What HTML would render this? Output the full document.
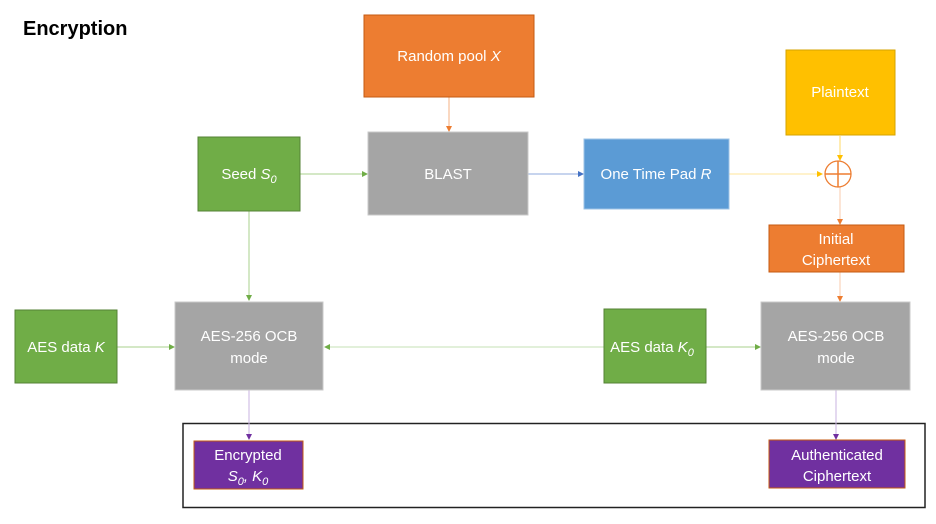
<!DOCTYPE html>
<html><head><meta charset="utf-8"><style>
body{margin:0;background:#fff;width:936px;height:524px;overflow:hidden}
svg{display:block}
text{font-family:"Liberation Sans",sans-serif;font-size:15px;fill:#fff;text-anchor:middle}
</style></head><body>
<svg width="936" height="524" viewBox="0 0 936 524">
<defs>
<marker id="ag" markerWidth="6" markerHeight="6" refX="5" refY="3" orient="auto"><path d="M0,0 L6,3 L0,6z" fill="#70AD47"/></marker>
<marker id="ao" markerWidth="6" markerHeight="6" refX="5" refY="3" orient="auto"><path d="M0,0 L6,3 L0,6z" fill="#ED7D31"/></marker>
<marker id="ay" markerWidth="6" markerHeight="6" refX="5" refY="3" orient="auto"><path d="M0,0 L6,3 L0,6z" fill="#FFC000"/></marker>
<marker id="ab" markerWidth="6" markerHeight="6" refX="5" refY="3" orient="auto"><path d="M0,0 L6,3 L0,6z" fill="#4472C4"/></marker>
<marker id="ap" markerWidth="6" markerHeight="6" refX="5" refY="3" orient="auto"><path d="M0,0 L6,3 L0,6z" fill="#7030A0"/></marker>
</defs>
<text x="23" y="35" style="fill:#000;font-weight:bold;font-size:20px;text-anchor:start">Encryption</text>
<rect x="183" y="423.5" width="742" height="84" fill="none" stroke="#222" stroke-width="1.5"/>
<!-- connectors -->
<line x1="449" y1="89" x2="449" y2="131" stroke="#F4B183" marker-end="url(#ao)"/>
<line x1="300" y1="174" x2="367" y2="174" stroke="#A9D18E" marker-end="url(#ag)"/>
<line x1="528" y1="174" x2="583" y2="174" stroke="#8FAADC" marker-end="url(#ab)"/>
<line x1="729" y1="174" x2="822" y2="174" stroke="#FFE699" marker-end="url(#ay)"/>
<line x1="840" y1="136" x2="840" y2="160" stroke="#FFD966" marker-end="url(#ay)"/>
<line x1="840" y1="187" x2="840" y2="224" stroke="#F8CBAD" marker-end="url(#ao)"/>
<line x1="840" y1="272" x2="840" y2="301" stroke="#F8CBAD" marker-end="url(#ao)"/>
<line x1="249" y1="211" x2="249" y2="300" stroke="#A9D18E" marker-end="url(#ag)"/>
<line x1="117" y1="347" x2="174" y2="347" stroke="#A9D18E" marker-end="url(#ag)"/>
<line x1="604" y1="347" x2="325" y2="347" stroke="#C5E0B4" marker-end="url(#ag)"/>
<line x1="706" y1="347" x2="760" y2="347" stroke="#A9D18E" marker-end="url(#ag)"/>
<line x1="249" y1="390" x2="249" y2="439" stroke="#C9B3E0" marker-end="url(#ap)"/>
<line x1="836" y1="390" x2="836" y2="439" stroke="#C9B3E0" marker-end="url(#ap)"/>
<!-- boxes -->
<rect x="364" y="15" width="170" height="82" fill="#ED7D31" stroke="#C55A11"/>
<text x="449" y="61">Random pool <tspan font-style="italic">X</tspan></text>
<rect x="786" y="50" width="109" height="85" fill="#FFC000" stroke="#D6A300"/>
<text x="840" y="97">Plaintext</text>
<rect x="198" y="137" width="102" height="74" fill="#70AD47" stroke="#548235"/>
<text x="249" y="179">Seed <tspan font-style="italic">S</tspan><tspan font-style="italic" font-size="11" dy="4">0</tspan></text>
<rect x="368" y="132" width="160" height="83" fill="#A5A5A5" stroke="#C9C9C9"/>
<text x="448" y="179">BLAST</text>
<rect x="584" y="139" width="145" height="70" fill="#5B9BD5" stroke="#9DC3E6"/>
<text x="656" y="179">One Time Pad <tspan font-style="italic">R</tspan></text>
<ellipse cx="838" cy="174" rx="13" ry="13" fill="#fff" stroke="#ED7D31" stroke-width="1.3"/>
<line x1="825" y1="174" x2="851" y2="174" stroke="#ED7D31" stroke-width="1.5"/>
<line x1="838" y1="161" x2="838" y2="187" stroke="#ED7D31" stroke-width="1.5"/>
<rect x="769" y="225" width="135" height="47" fill="#ED7D31" stroke="#C55A11"/>
<text x="836" y="244">Initial</text><text x="836" y="265">Ciphertext</text>
<rect x="15" y="310" width="102" height="73" fill="#70AD47" stroke="#548235"/>
<text x="66" y="352">AES data <tspan font-style="italic">K</tspan></text>
<rect x="175" y="302" width="148" height="88" fill="#A5A5A5" stroke="#C9C9C9"/>
<text x="249" y="341">AES-256 OCB</text><text x="249" y="363">mode</text>
<rect x="604" y="309" width="102" height="74" fill="#70AD47" stroke="#548235"/>
<text x="652" y="352">AES data <tspan font-style="italic">K</tspan><tspan font-style="italic" font-size="11" dy="4">0</tspan></text>
<rect x="761" y="302" width="149" height="88" fill="#A5A5A5" stroke="#C9C9C9"/>
<text x="836" y="341">AES-256 OCB</text><text x="836" y="363">mode</text>
<rect x="194" y="441" width="109" height="48" fill="#7030A0" stroke="#C55A11"/>
<text x="248" y="460">Encrypted</text>
<text x="248" y="481" font-style="italic">S<tspan font-size="11" dy="4">0</tspan><tspan dy="-4">, K</tspan><tspan font-size="11" dy="4">0</tspan></text>
<rect x="769" y="440" width="136" height="48" fill="#7030A0" stroke="#C55A11"/>
<text x="837" y="460">Authenticated</text><text x="837" y="481">Ciphertext</text>
</svg>
</body></html>
